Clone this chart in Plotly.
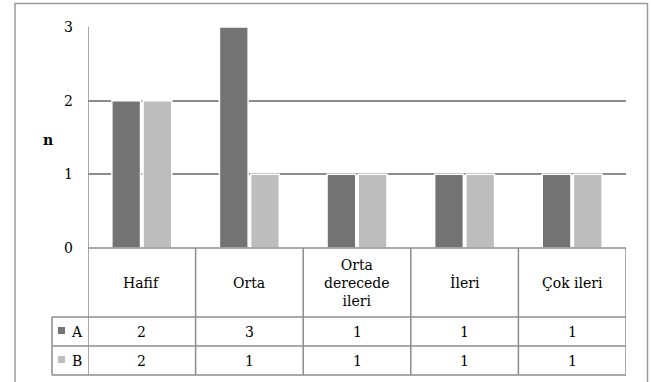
import plotly.graph_objects as go

categories = ["Hafif", "Orta", "Orta derecede ileri", "İleri", "Çok ileri"]
category_labels = ["Hafif", "Orta", "Orta<br>derecede<br>ileri", "İleri", "Çok ileri"]
series_names = ["A", "B"]
values_A = [2, 3, 1, 1, 1]
values_B = [2, 1, 1, 1, 1]
y_ticks = [0, 1, 2, 3]

W, H = 651, 382
def px(x):
    return x / W
def py(y):
    return 1 - y / H

FONT = "DejaVu Serif"
GRID = "#8c8c8c"
DARK = "#737373"
LIGHT = "#bdbdbd"
colors = [DARK, LIGHT]
series_values = [values_A, values_B]

fig = go.Figure()
for name, vals, c in zip(series_names, series_values, colors):
    fig.add_trace(go.Bar(x=categories, y=vals, name=name,
                         marker=dict(color=c, line=dict(color="white", width=1.5)),
                         showlegend=False))

# table geometry (pixels)
top_plot, zero_y = 27, 248
row_tops = [248, 317, 346, 375]
legend_left = 52

shapes = []
shapes.append(dict(type="rect", xref="paper", yref="paper", x0=px(15), x1=px(647.5), y0=py(395), y1=py(3.5),
                   line=dict(color="#9a9a9a", width=1.5), fillcolor="rgba(0,0,0,0)", layer="below"))
shapes.append(dict(type="line", xref="x", yref="paper", x0=-0.5, x1=-0.5, y0=py(zero_y), y1=py(top_plot),
                   line=dict(color=GRID, width=1.5)))
for i in range(len(categories) + 1):
    shapes.append(dict(type="line", xref="x", yref="paper", x0=i - 0.5, x1=i - 0.5,
                       y0=py(row_tops[-1]), y1=py(row_tops[0]), line=dict(color=GRID, width=1.5)))
shapes.append(dict(type="line", xref="paper", yref="paper", x0=px(legend_left), x1=px(legend_left),
                   y0=py(row_tops[-1]), y1=py(row_tops[1]), line=dict(color=GRID, width=1.5)))
shapes.append(dict(type="line", xref="x", yref="paper", x0=-0.5, x1=len(categories) - 0.5,
                   y0=py(row_tops[0]), y1=py(row_tops[0]), line=dict(color=GRID, width=1.5)))
for r in row_tops[1:]:
    shapes.append(dict(type="line", xref="paper", yref="paper", x0=px(legend_left), x1=px(626),
                       y0=py(r), y1=py(r), line=dict(color=GRID, width=1.5)))
for k, c in enumerate(colors):
    cy = (row_tops[k + 1] + row_tops[k + 2]) / 2 - 1
    shapes.append(dict(type="rect", xref="paper", yref="paper", x0=px(58), x1=px(65),
                       y0=py(cy + 3.5), y1=py(cy - 3.5), fillcolor=c, line=dict(width=0)))

annotations = []
hdr_y = (row_tops[0] + row_tops[1]) / 2
for cat, lab in zip(categories, category_labels):
    annotations.append(dict(x=cat, xref="x", y=py(hdr_y), yref="paper", text=lab, showarrow=False,
                            font=dict(family=FONT, size=14, color="#000"), align="center",
                            xanchor="center", yanchor="middle"))
for k, (name, vals) in enumerate(zip(series_names, series_values)):
    ry = (row_tops[k + 1] + row_tops[k + 2]) / 2
    annotations.append(dict(x=px(77), xref="paper", y=py(ry), yref="paper", text=name, showarrow=False,
                            font=dict(family=FONT, size=14, color="#000"), xanchor="center", yanchor="middle"))
    for cat, v in zip(categories, vals):
        annotations.append(dict(x=cat, xref="x", y=py(ry), yref="paper", text=str(v), showarrow=False,
                                font=dict(family=FONT, size=14, color="#000"), xanchor="center", yanchor="middle"))
annotations.append(dict(x=px(48), xref="paper", y=py(140), yref="paper", text="<b>n</b>", showarrow=False,
                        font=dict(family=FONT, size=14, color="#000"), xanchor="center", yanchor="middle"))

fig.update_layout(
    width=W, height=H,
    margin=dict(l=0, r=0, t=0, b=0, pad=0, autoexpand=False),
    showlegend=False,
    paper_bgcolor="white", plot_bgcolor="white",
    barmode="group", bargap=0.42, bargroupgap=0.08,
    font=dict(family=FONT, size=14, color="#000"),
    xaxis=dict(domain=[px(88), px(626)], type="category", range=[-0.5, len(categories) - 0.5],
               showticklabels=False, showgrid=False, zeroline=False, showline=False,
               automargin=False, fixedrange=True),
    yaxis=dict(domain=[py(zero_y), py(top_plot)], range=[0, 3], tickvals=y_ticks,
               showgrid=True, gridcolor=GRID, gridwidth=1.5, zeroline=False, showline=False,
               automargin=False, fixedrange=True,
               ticks="", ticklabelstandoff=14, tickfont=dict(family=FONT, size=14, color="#000")),
    shapes=shapes, annotations=annotations,
)

fig.write_html("out.html", config={"displayModeBar": False},
               post_script="document.body.style.margin='0';document.body.style.padding='0';"
                           "document.documentElement.style.overflow='hidden';")
